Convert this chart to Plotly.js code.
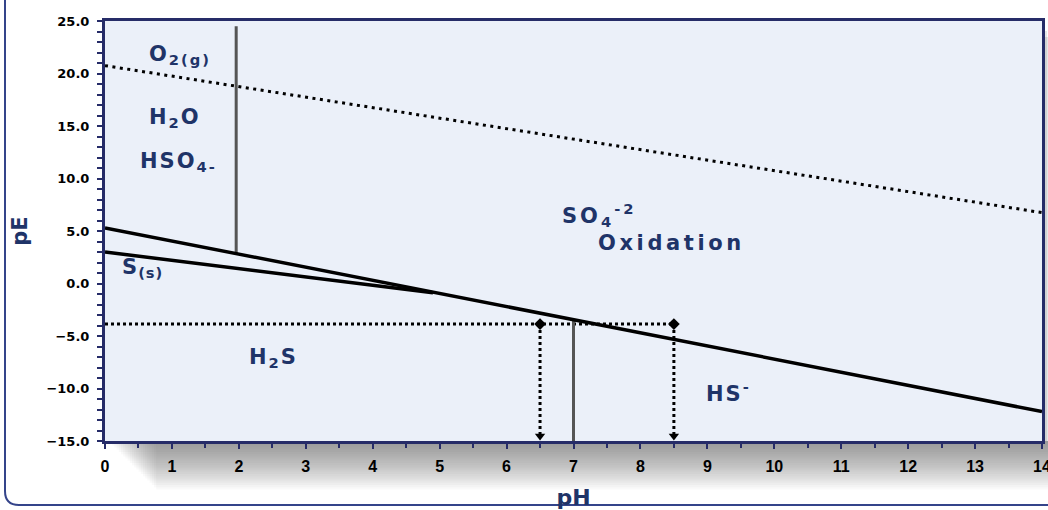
<!DOCTYPE html>
<html><head><meta charset="utf-8">
<script src="https://cdn.plot.ly/plotly-3.0.1.min.js"></script>
<style>html,body{margin:0;padding:0;background:#fff;overflow:hidden}#chart{width:1048px;height:510px}</style>
</head><body><div id="chart"></div>
<script>
// ---- data ----
const phO2 = [0, 14];
const peO2 = [20.75, 6.75];
const phSulfate = [0, 14];
const peSulfate = [5.3, -12.2];
const phSulfur = [0, 4.9];
const peSulfur = [3.0, -0.88];
const phHSO4 = [1.96, 1.96];
const peHSO4 = [24.5, 2.85];
const phH2S = [7.0, 7.0];
const peH2S = [-15, -3.45];
const phRef = [0, 8.5];
const peRef = [-3.86, -3.86];
const phMarks = [6.5, 8.5];
const peMarks = [-3.86, -3.86];
const peArrowEnd = [-14.52, -14.52];

const labelText = ['O<sub>2(g)</sub>', 'H<sub>2</sub>O', 'HSO<sub>4-</sub>', 'SO<sub>4</sub><sup>-2</sup>', 'Oxidation', 'S<sub>(s)</sub>', 'H<sub>2</sub>S', 'HS<sup>-</sup>'];
const labelX = [0.63, 0.63, 0.49, 6.80, 7.34, 0.22, 2.12, 8.95];
const labelY = [21.76, 15.76, 11.57, 6.52, 3.86, 1.48, -7.1, -10.33];
const labelSpacing = [2, 2, 2, 3, 3.6, 1, 2, 2];

const yTicks = [-15, -10, -5, 0, 5, 10, 15, 20, 25];

// ---- styles ----
const NAVY = '#262c68';
const LABEL = '#1f3468';
const W = 1048, H = 510, L = 105, R = 6, T = 21, B = 69;
const pw = W - L - R, ph = H - T - B;
const px = v => (v - L) / pw;
const py = v => (T + ph - v) / ph;

const traces = [
  {x: phO2, y: peO2, mode: 'lines', line: {color: '#000', width: 3, dash: '3px,4.5px'}},
  {x: phHSO4, y: peHSO4, mode: 'lines', line: {color: '#555', width: 3}},
  {x: phSulfur, y: peSulfur, mode: 'lines', line: {color: '#000', width: 3.5}},
  {x: phRef, y: peRef, mode: 'lines', line: {color: '#000', width: 3, dash: 'dot'}},
  {x: phH2S, y: peH2S, mode: 'lines', line: {color: '#555', width: 3}},
  {x: phSulfate, y: peSulfate, mode: 'lines', line: {color: '#000', width: 3.5}},
  {x: [phMarks[0], phMarks[0]], y: [peMarks[0], peArrowEnd[0]], mode: 'lines', line: {color: '#000', width: 3, dash: 'dot'}},
  {x: [phMarks[1], phMarks[1]], y: [peMarks[1], peArrowEnd[1]], mode: 'lines', line: {color: '#000', width: 3, dash: 'dot'}},
  {x: phMarks, y: peMarks, mode: 'markers', marker: {symbol: 'diamond', size: 9, color: '#000'}},
  {x: phMarks, y: peArrowEnd, mode: 'markers', marker: {symbol: 'triangle-down', size: 9, color: '#000'}}
];

const shapes = [];
for (let i = 0; i < 22; i++) {
  shapes.push({type: 'rect', xref: 'paper', yref: 'paper', layer: 'below',
    x0: px(110 + 2.2 * i), x1: px(W + 10), y0: py(T + ph), y1: py(T + ph + 2.2 * (i + 1)),
    fillcolor: '#555', opacity: 0.037, line: {width: 0}});
}
for (let i = 0; i < 3; i++) {
  shapes.push({type: 'rect', xref: 'paper', yref: 'paper', layer: 'below',
    x0: px(L + pw), x1: px(L + pw + 2.5 * (i + 1)), y0: py(T + ph), y1: py(T + 4 + 6 * i),
    fillcolor: '#555', opacity: 0.14, line: {width: 0}});
}
// outer rounded frame
const fx = px(5), fb = py(505), ft = py(-10), fr = px(1070);
const rx = 14 / pw, ry = 14 / ph;
shapes.push({type: 'path', xref: 'paper', yref: 'paper', layer: 'below',
  path: `M ${fx} ${ft} L ${fx} ${fb + ry} Q ${fx} ${fb} ${fx + rx} ${fb} L ${fr} ${fb}`,
  line: {color: '#34448a', width: 2}});

const annotations = labelText.map((t, i) => ({
  x: labelX[i], y: labelY[i], xref: 'x', yref: 'y', text: t, showarrow: false,
  xanchor: 'left', yanchor: 'middle', align: 'left',
  font: {family: 'DejaVu Sans', size: 21, color: LABEL, weight: 700}
}));

const layout = {
  width: W, height: H,
  margin: {l: L, r: R, t: T, b: B},
  paper_bgcolor: '#fff', plot_bgcolor: '#ebf0f9',
  showlegend: false,
  font: {family: 'DejaVu Sans', color: '#000'},
  xaxis: {
    range: [0, 14], dtick: 1, tick0: 0, showgrid: false, zeroline: false,
    showline: true, linecolor: NAVY, linewidth: 3, mirror: true,
    ticks: 'outside', ticklen: 5, tickwidth: 2, tickcolor: NAVY,
    minor: {dtick: 0.5, ticks: 'outside', ticklen: 4, tickwidth: 2, tickcolor: NAVY},
    tickfont: {family: 'Liberation Sans', size: 16, color: '#000', weight: 700},
    ticklabelstandoff: 4, ticklabeloverflow: 'allow',
    title: {text: 'pH', font: {family: 'DejaVu Sans', size: 22, color: LABEL, weight: 700}, standoff: 19}
  },
  yaxis: {
    range: [-15, 25], tickvals: yTicks, tickformat: '.1f', showgrid: false, zeroline: false,
    showline: true, linecolor: NAVY, linewidth: 3, mirror: true,
    ticks: 'outside', ticklen: 5, tickwidth: 2, tickcolor: NAVY,
    minor: {dtick: 1, ticks: 'outside', ticklen: 5, tickwidth: 2, tickcolor: NAVY},
    tickfont: {family: 'DejaVu Sans', size: 13, color: '#000', weight: 700},
    ticklabelstandoff: 5,
    title: {text: 'pE', font: {family: 'DejaVu Sans', size: 21, color: LABEL, weight: 700}, standoff: 14}
  },
  shapes: shapes,
  annotations: annotations
};

Plotly.newPlot('chart', traces, layout, {displayModeBar: false, staticPlot: true}).then(() => {
  document.querySelectorAll('.annotation').forEach(g => {
    const i = +g.getAttribute('data-index');
    const t = g.querySelector('text');
    if (t) t.style.letterSpacing = labelSpacing[i] + 'px';
  });
});
</script></body></html>
